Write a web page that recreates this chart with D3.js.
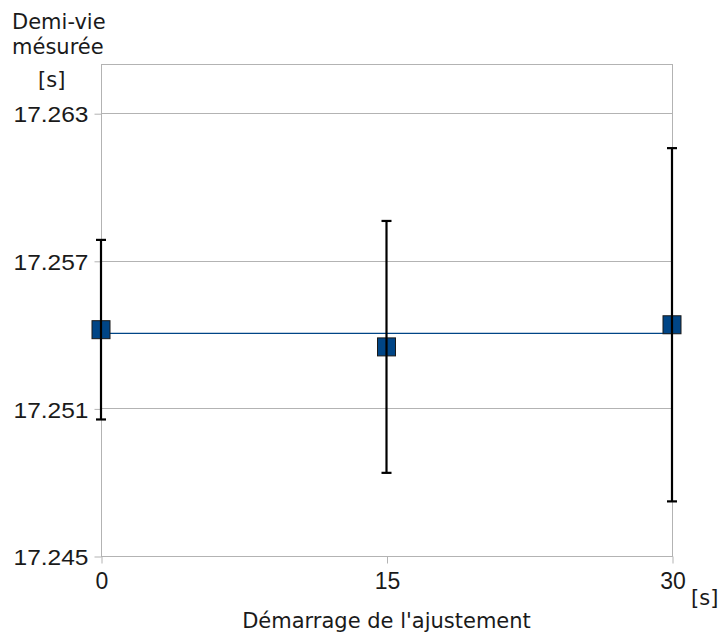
<!DOCTYPE html>
<html>
<head>
<meta charset="utf-8">
<script src="https://cdn.jsdelivr.net/npm/d3@7"></script>
<style>
  html, body { margin: 0; padding: 0; background: #fff; }
  svg { display: block; }
</style>
</head>
<body>
<svg id="chart" width="723" height="634"></svg>
<script>
// ---- data ----
const startTimes = [0, 15, 30];                       // Démarrage de l'ajustement [s]
const halfLives = [17.2542, 17.2535, 17.2544];        // Demi-vie mesurée [s]
const errors = [0.00365, 0.00512, 0.00718];           // error bar half-widths
const meanLine = [17.25405, 17.25405];                // weighted mean line
const meanLineX = [0, 30];
const yTicks = [17.245, 17.251, 17.257, 17.263];
const xTicks = [0, 15, 30];
const yDomain = [17.245, 17.265];
const xDomain = [0, 30];

// ---- layout ----
const svg = d3.select("#chart");
const mLeft = 101, mRight = 672, mTop = 64, mBottom = 556;
const x = d3.scaleLinear().domain(xDomain).range([mLeft, mRight]);
const y = d3.scaleLinear().domain(yDomain).range([mBottom, mTop]);

const gridColor = "#b3b3b3";
const blue = "#004586";
const textColor = "#1a1a1a";
const numFont = "'Liberation Sans', Arial, sans-serif";
const txtFont = "'DejaVu Sans', sans-serif";

// gridlines
svg.append("g").selectAll("line").data(yTicks).join("line")
  .attr("x1", mLeft).attr("x2", mRight)
  .attr("y1", d => Math.round(y(d)) + 0.5).attr("y2", d => Math.round(y(d)) + 0.5)
  .attr("stroke", gridColor).attr("stroke-width", 1);

// frame
svg.append("rect")
  .attr("x", mLeft + 0.5).attr("y", mTop + 0.5)
  .attr("width", mRight - mLeft).attr("height", mBottom - mTop)
  .attr("fill", "none").attr("stroke", gridColor).attr("stroke-width", 1);

// y axis
const yAxis = d3.axisLeft(y).tickValues(yTicks).tickSize(7).tickPadding(5)
  .tickFormat(d3.format(".3f"));
const gy = svg.append("g").attr("transform", `translate(${mLeft + 0.5},0.5)`).call(yAxis);
gy.select(".domain").remove();
gy.selectAll(".tick line").attr("stroke", gridColor);
gy.selectAll(".tick text")
  .attr("font-family", numFont).attr("font-size", 22.5)
  .attr("fill", textColor).attr("dy", "0.36em").attr("x", -13)
  .attr("textLength", 75).attr("lengthAdjust", "spacingAndGlyphs");

// x axis
const xAxis = d3.axisBottom(x).tickValues(xTicks).tickSize(7).tickPadding(9)
  .tickFormat(d3.format("d"));
const gx = svg.append("g").attr("transform", `translate(0.5,${mBottom + 0.5})`).call(xAxis);
gx.select(".domain").remove();
gx.selectAll(".tick line").attr("stroke", gridColor);
gx.selectAll(".tick text")
  .attr("font-family", numFont).attr("font-size", 23)
  .attr("fill", textColor).attr("dy", "0.71em").attr("y", 16);

// mean line
const line = d3.line().x((d, i) => x(meanLineX[i])).y(d => y(d));
svg.append("path").datum(meanLine)
  .attr("d", line).attr("fill", "none")
  .attr("stroke", blue).attr("stroke-width", 1.3);

// points (squares)
const pts = startTimes.map((t, i) => ({ t, v: halfLives[i], e: errors[i] }));
const sq = 18;
svg.append("g").selectAll("rect").data(pts).join("rect")
  .attr("x", d => x(d.t) - sq / 2).attr("y", d => y(d.v) - sq / 2)
  .attr("width", sq).attr("height", sq)
  .attr("fill", blue).attr("stroke", textColor).attr("stroke-width", 1);

// error bars
const eb = svg.append("g").attr("stroke", "#000").attr("stroke-width", 2.2);
eb.selectAll("line.v").data(pts).join("line").attr("class", "v")
  .attr("x1", d => x(d.t)).attr("x2", d => x(d.t))
  .attr("y1", d => y(d.v + d.e)).attr("y2", d => y(d.v - d.e));
eb.selectAll("line.ct").data(pts).join("line").attr("class", "ct")
  .attr("x1", d => x(d.t) - 5).attr("x2", d => x(d.t) + 5)
  .attr("y1", d => y(d.v + d.e)).attr("y2", d => y(d.v + d.e));
eb.selectAll("line.cb").data(pts).join("line").attr("class", "cb")
  .attr("x1", d => x(d.t) - 5).attr("x2", d => x(d.t) + 5)
  .attr("y1", d => y(d.v - d.e)).attr("y2", d => y(d.v - d.e));

// y axis title
const yt = svg.append("g").attr("font-family", txtFont).attr("font-size", 21).attr("fill", textColor);
yt.append("text").attr("x", 12).attr("y", 29).text("Demi-vie");
yt.append("text").attr("x", 12).attr("y", 54).text("mésurée");
yt.append("text").attr("x", 38).attr("y", 87).text("[s]");

// x axis title and unit
svg.append("text").attr("x", (mLeft + mRight) / 2).attr("y", 628)
  .attr("text-anchor", "middle").attr("font-family", txtFont).attr("font-size", 21)
  .attr("fill", textColor).text("Démarrage de l'ajustement");
svg.append("text").attr("x", 691).attr("y", 605)
  .attr("font-family", txtFont).attr("font-size", 21)
  .attr("fill", textColor).text("[s]");
</script>
</body>
</html>
